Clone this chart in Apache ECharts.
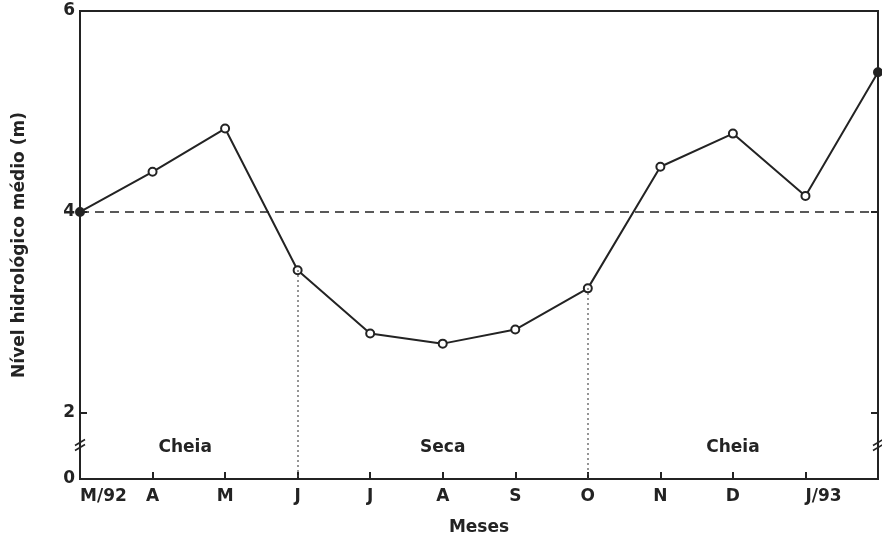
<!DOCTYPE html>
<html><head><meta charset="utf-8">
<script src="https://cdn.jsdelivr.net/npm/echarts@6/dist/echarts.min.js"></script>
<style>html,body{margin:0;padding:0;background:#fff}#c{width:882px;height:536px}</style>
</head><body><div id="c"></div>
<script>
// ---- data ----
const months = ['M/92','A','M','J','J','A','S','O','N','D','J/93',''];
const nivel = [4.00, 4.40, 4.83, 3.42, 2.79, 2.69, 2.83, 3.24, 4.45, 4.78, 4.16, 5.39];
const yTickLabels = [0, 2, 4, 6];
const yTickMarks = [2, 4];
const meanLevel = 4;
const dividerIdx = [3, 7];
const periodLabels = ['Cheia', 'Seca', 'Cheia'];
const periodAt = [1.45, 5, 9];
const yBreak = {start: 0.338, end: 1.681, gap: 0};

const INK = '#232323';
const FONT = 'DejaVu Sans';

const chart = echarts.init(document.getElementById('c'), null, {renderer: 'canvas'});

const seriesData = nivel.map((v, i) => {
  if (i === 0 || i === nivel.length - 1) {
    return {value: v, itemStyle: {color: INK}};
  }
  return v;
});

const xData = months.map(m => {
  if (m === 'M/92' || m === 'J/93') return {value: m, textStyle: {align: 'left'}};
  return m;
});

function yAxisCfg(pos, showLabels) {
  return {
    type: 'value', position: pos, min: 0, max: 6,
    breaks: [yBreak],
    breakArea: {show: false},
    axisLine: {show: true, lineStyle: {color: INK, width: 2}},
    axisTick: {show: true, inside: true, length: 7, lineStyle: {color: INK, width: 2}, customValues: yTickMarks},
    axisLabel: {show: showLabels, customValues: yTickLabels, margin: 5, color: INK,
      fontFamily: FONT, fontWeight: 'bold', fontSize: 17,
      formatter: v => (yTickLabels.indexOf(v) >= 0 ? String(v) : '')},
    splitLine: {show: false},
    name: showLabels ? 'Nível hidrológico médio (m)' : '',
    nameLocation: 'middle', nameGap: 52,
    nameTextStyle: {color: INK, fontFamily: FONT, fontWeight: 'bold', fontSize: 17}
  };
}

chart.setOption({
  animation: false,
  backgroundColor: '#fff',
  grid: {left: 80, right: 4, top: 11, bottom: 57, show: true, borderColor: INK, borderWidth: 2,
    containLabel: false, outerBoundsMode: 'none'},
  xAxis: {
    type: 'category', data: xData, boundaryGap: false,
    axisLine: {lineStyle: {color: INK, width: 2}},
    axisTick: {inside: true, length: 7, interval: 0, lineStyle: {color: INK, width: 2}},
    axisLabel: {interval: 0, margin: 9, color: INK, fontFamily: FONT, fontWeight: 'bold', fontSize: 17},
    name: 'Meses', nameLocation: 'middle', nameGap: 40,
    nameTextStyle: {color: INK, fontFamily: FONT, fontWeight: 'bold', fontSize: 17}
  },
  yAxis: [yAxisCfg('left', true), yAxisCfg('right', false)],
  series: [
    {
      type: 'line', data: [], z: 1, silent: true,
      markLine: {
        silent: true, symbol: 'none', label: {show: false},
        data: [
          {yAxis: meanLevel, lineStyle: {type: [9, 6], width: 1.5, color: INK}},
          ...dividerIdx.map(i => [
            {coord: [i, nivel[i]], lineStyle: {type: [1.5, 3.5], width: 1.5, color: '#444'}},
            {coord: [i, 0]}
          ])
        ]
      }
    },
    {
      type: 'line', data: seriesData, z: 3,
      symbol: 'circle', symbolSize: 8, showAllSymbol: true,
      lineStyle: {color: INK, width: 2},
      itemStyle: {color: '#fff', borderColor: INK, borderWidth: 2}
    }
  ]
});

function px(axis, v) {
  const q = {}; q[axis] = 0;
  return chart.convertToPixel(q, v);
}
const xL = px('xAxisIndex', 0);
const xR = px('xAxisIndex', months.length - 1);
const yB = px('yAxisIndex', yBreak.start);
const yLbl = px('yAxisIndex', 0.31);
const g = [];
[xL, xR].forEach(x => {
  [-2.5, 2.5].forEach(d => {
    g.push({type: 'line', shape: {x1: x - 5, y1: yB + d + 3, x2: x + 5, y2: yB + d - 3},
      style: {stroke: INK, lineWidth: 1.6}, z: 10});
  });
});
periodLabels.forEach((t, k) => {
  const pos = periodAt[k];
  const i0 = Math.floor(pos), f = pos - i0;
  const xa = px('xAxisIndex', i0), xb = px('xAxisIndex', Math.min(i0 + 1, months.length - 1));
  g.push({type: 'text', x: xa + (xb - xa) * f, y: yLbl,
    style: {text: t, fill: INK, font: 'bold 17px "DejaVu Sans"', align: 'center', verticalAlign: 'middle'}, z: 10});
});
chart.setOption({graphic: g});
</script>
</body></html>
